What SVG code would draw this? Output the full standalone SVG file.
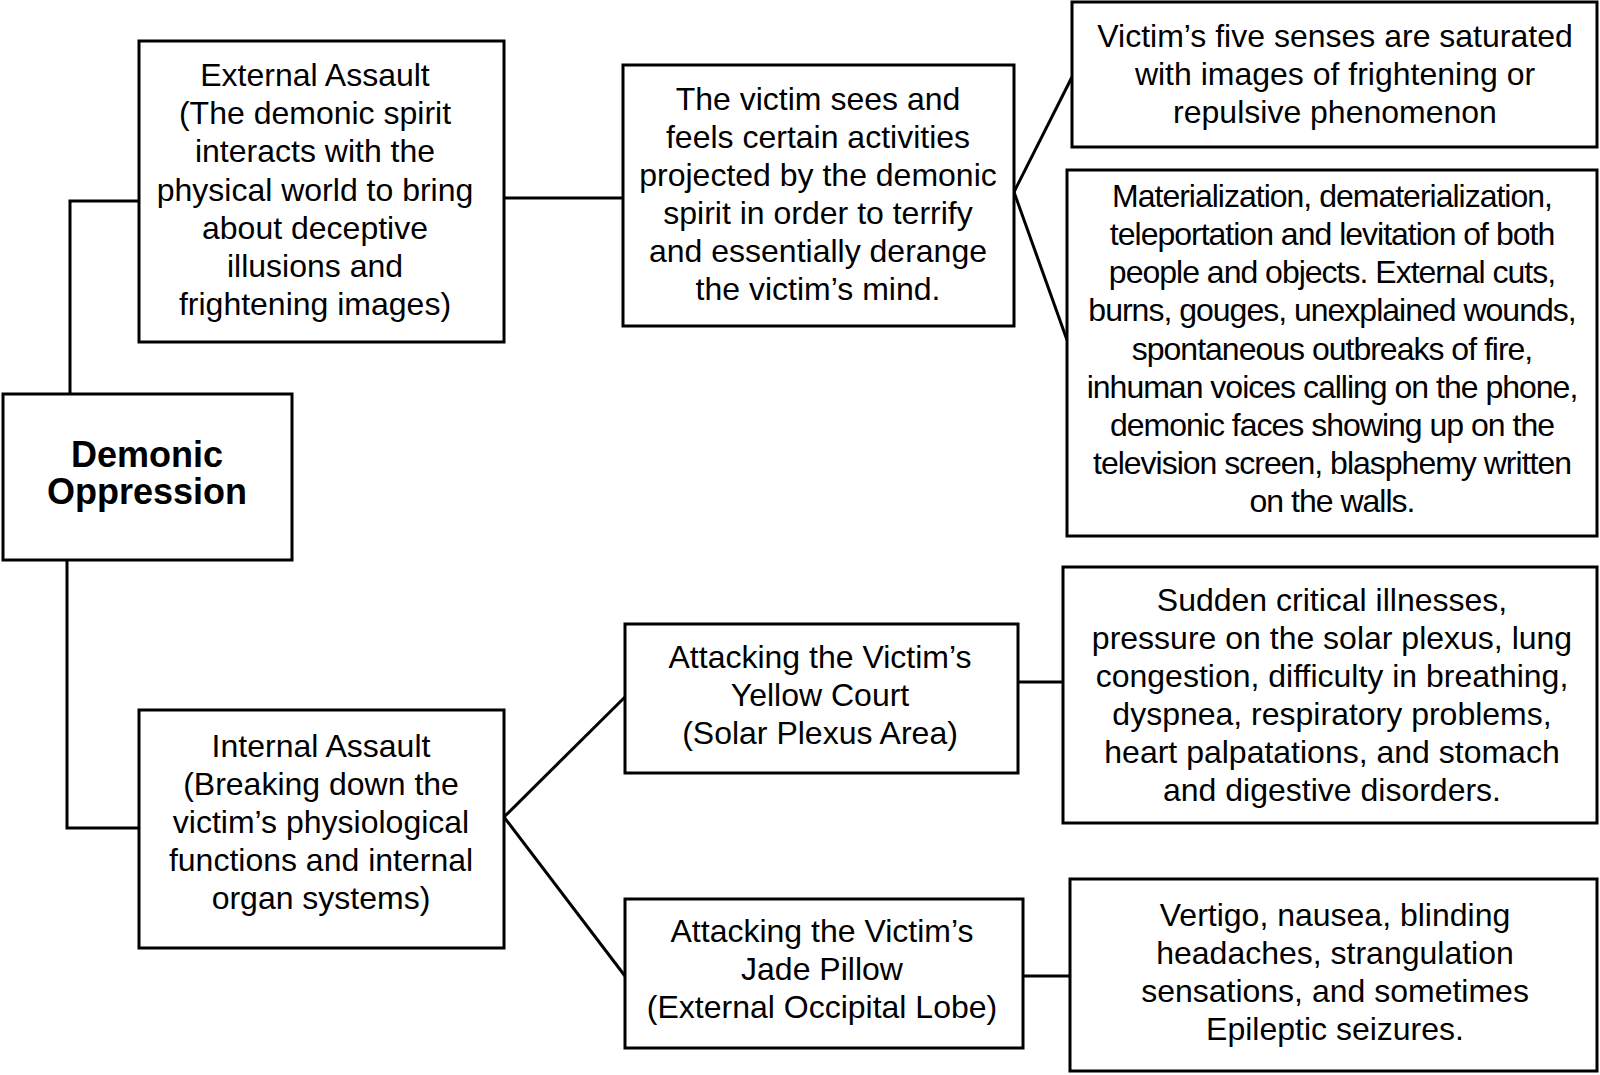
<svg xmlns="http://www.w3.org/2000/svg" width="1600" height="1075" viewBox="0 0 1600 1075">
<style>
.box{fill:#fff;stroke:#000;stroke-width:3}
.t{font-family:"Liberation Sans",Arial,sans-serif;font-size:32px;fill:#000;text-anchor:middle}
.b{font-weight:bold;font-size:36px}
.c{fill:none;stroke:#000;stroke-width:3}
.tight{letter-spacing:-1px}
</style>
<rect width="1600" height="1075" fill="#fff"/>
<g id="connectors">
<polyline class="c" points="139,201 70,201 70,394"/>
<polyline class="c" points="67,560 67,828 139,828"/>
<line class="c" x1="504" y1="198" x2="623" y2="198"/>
<line class="c" x1="1014" y1="192" x2="1072" y2="77"/>
<line class="c" x1="1014" y1="192" x2="1067" y2="340"/>
<line class="c" x1="504" y1="817" x2="625" y2="697"/>
<line class="c" x1="504" y1="817" x2="625" y2="976"/>
<line class="c" x1="1018" y1="682" x2="1063" y2="682"/>
<line class="c" x1="1023" y1="976" x2="1070" y2="976"/>
</g>
<g id="demonic">
<rect class="box" x="3" y="394" width="289" height="166"/>
<text class="t b" x="147" y="467">Demonic</text>
<text class="t b" x="147" y="504">Oppression</text>
</g>
<g id="external">
<rect class="box" x="139" y="41" width="365" height="301"/>
<text class="t" x="315" y="86">External Assault</text>
<text class="t" x="315" y="124">(The demonic spirit</text>
<text class="t" x="315" y="162">interacts with the</text>
<text class="t" x="315" y="201">physical world to bring</text>
<text class="t" x="315" y="239">about deceptive</text>
<text class="t" x="315" y="277">illusions and</text>
<text class="t" x="315" y="315">frightening images)</text>
</g>
<g id="victim-sees">
<rect class="box" x="623" y="65" width="391" height="261"/>
<text class="t" x="818" y="110">The victim sees and</text>
<text class="t" x="818" y="148">feels certain activities</text>
<text class="t" x="818" y="186">projected by the demonic</text>
<text class="t" x="818" y="224">spirit in order to terrify</text>
<text class="t" x="818" y="262">and essentially derange</text>
<text class="t" x="818" y="300">the victim’s mind.</text>
</g>
<g id="five-senses">
<rect class="box" x="1072" y="2" width="525" height="145"/>
<text class="t" x="1335" y="47">Victim’s five senses are saturated</text>
<text class="t" x="1335" y="85">with images of frightening or</text>
<text class="t" x="1335" y="123">repulsive phenomenon</text>
</g>
<g id="materialization">
<rect class="box" x="1067" y="170" width="530" height="366"/>
<g class="t tight">
<text x="1332" y="207">Materialization, dematerialization,</text>
<text x="1332" y="245">teleportation and levitation of both</text>
<text x="1332" y="283">people and objects. External cuts,</text>
<text x="1332" y="321">burns, gouges, unexplained wounds,</text>
<text x="1332" y="360">spontaneous outbreaks of fire,</text>
<text x="1332" y="398">inhuman voices calling on the phone,</text>
<text x="1332" y="436">demonic faces showing up on the</text>
<text x="1332" y="474">television screen, blasphemy written</text>
<text x="1332" y="512">on the walls.</text>
</g>
</g>
<g id="internal">
<rect class="box" x="139" y="710" width="365" height="238"/>
<text class="t" x="321" y="757">Internal Assault</text>
<text class="t" x="321" y="795">(Breaking down the</text>
<text class="t" x="321" y="833">victim’s physiological</text>
<text class="t" x="321" y="871">functions and internal</text>
<text class="t" x="321" y="909">organ systems)</text>
</g>
<g id="yellow-court">
<rect class="box" x="625" y="624" width="393" height="149"/>
<text class="t" x="820" y="668">Attacking the Victim’s</text>
<text class="t" x="820" y="706">Yellow Court</text>
<text class="t" x="820" y="744">(Solar Plexus Area)</text>
</g>
<g id="jade-pillow">
<rect class="box" x="625" y="899" width="398" height="149"/>
<text class="t" x="822" y="942">Attacking the Victim’s</text>
<text class="t" x="822" y="980">Jade Pillow</text>
<text class="t" x="822" y="1018">(External Occipital Lobe)</text>
</g>
<g id="sudden">
<rect class="box" x="1063" y="567" width="534" height="256"/>
<text class="t" x="1332" y="611">Sudden critical illnesses,</text>
<text class="t" x="1332" y="649">pressure on the solar plexus, lung</text>
<text class="t" x="1332" y="687">congestion, difficulty in breathing,</text>
<text class="t" x="1332" y="725">dyspnea, respiratory problems,</text>
<text class="t" x="1332" y="763">heart palpatations, and stomach</text>
<text class="t" x="1332" y="801">and digestive disorders.</text>
</g>
<g id="vertigo">
<rect class="box" x="1070" y="879" width="527" height="192"/>
<text class="t" x="1335" y="926">Vertigo, nausea, blinding</text>
<text class="t" x="1335" y="964">headaches, strangulation</text>
<text class="t" x="1335" y="1002">sensations, and sometimes</text>
<text class="t" x="1335" y="1040">Epileptic seizures.</text>
</g>
</svg>
